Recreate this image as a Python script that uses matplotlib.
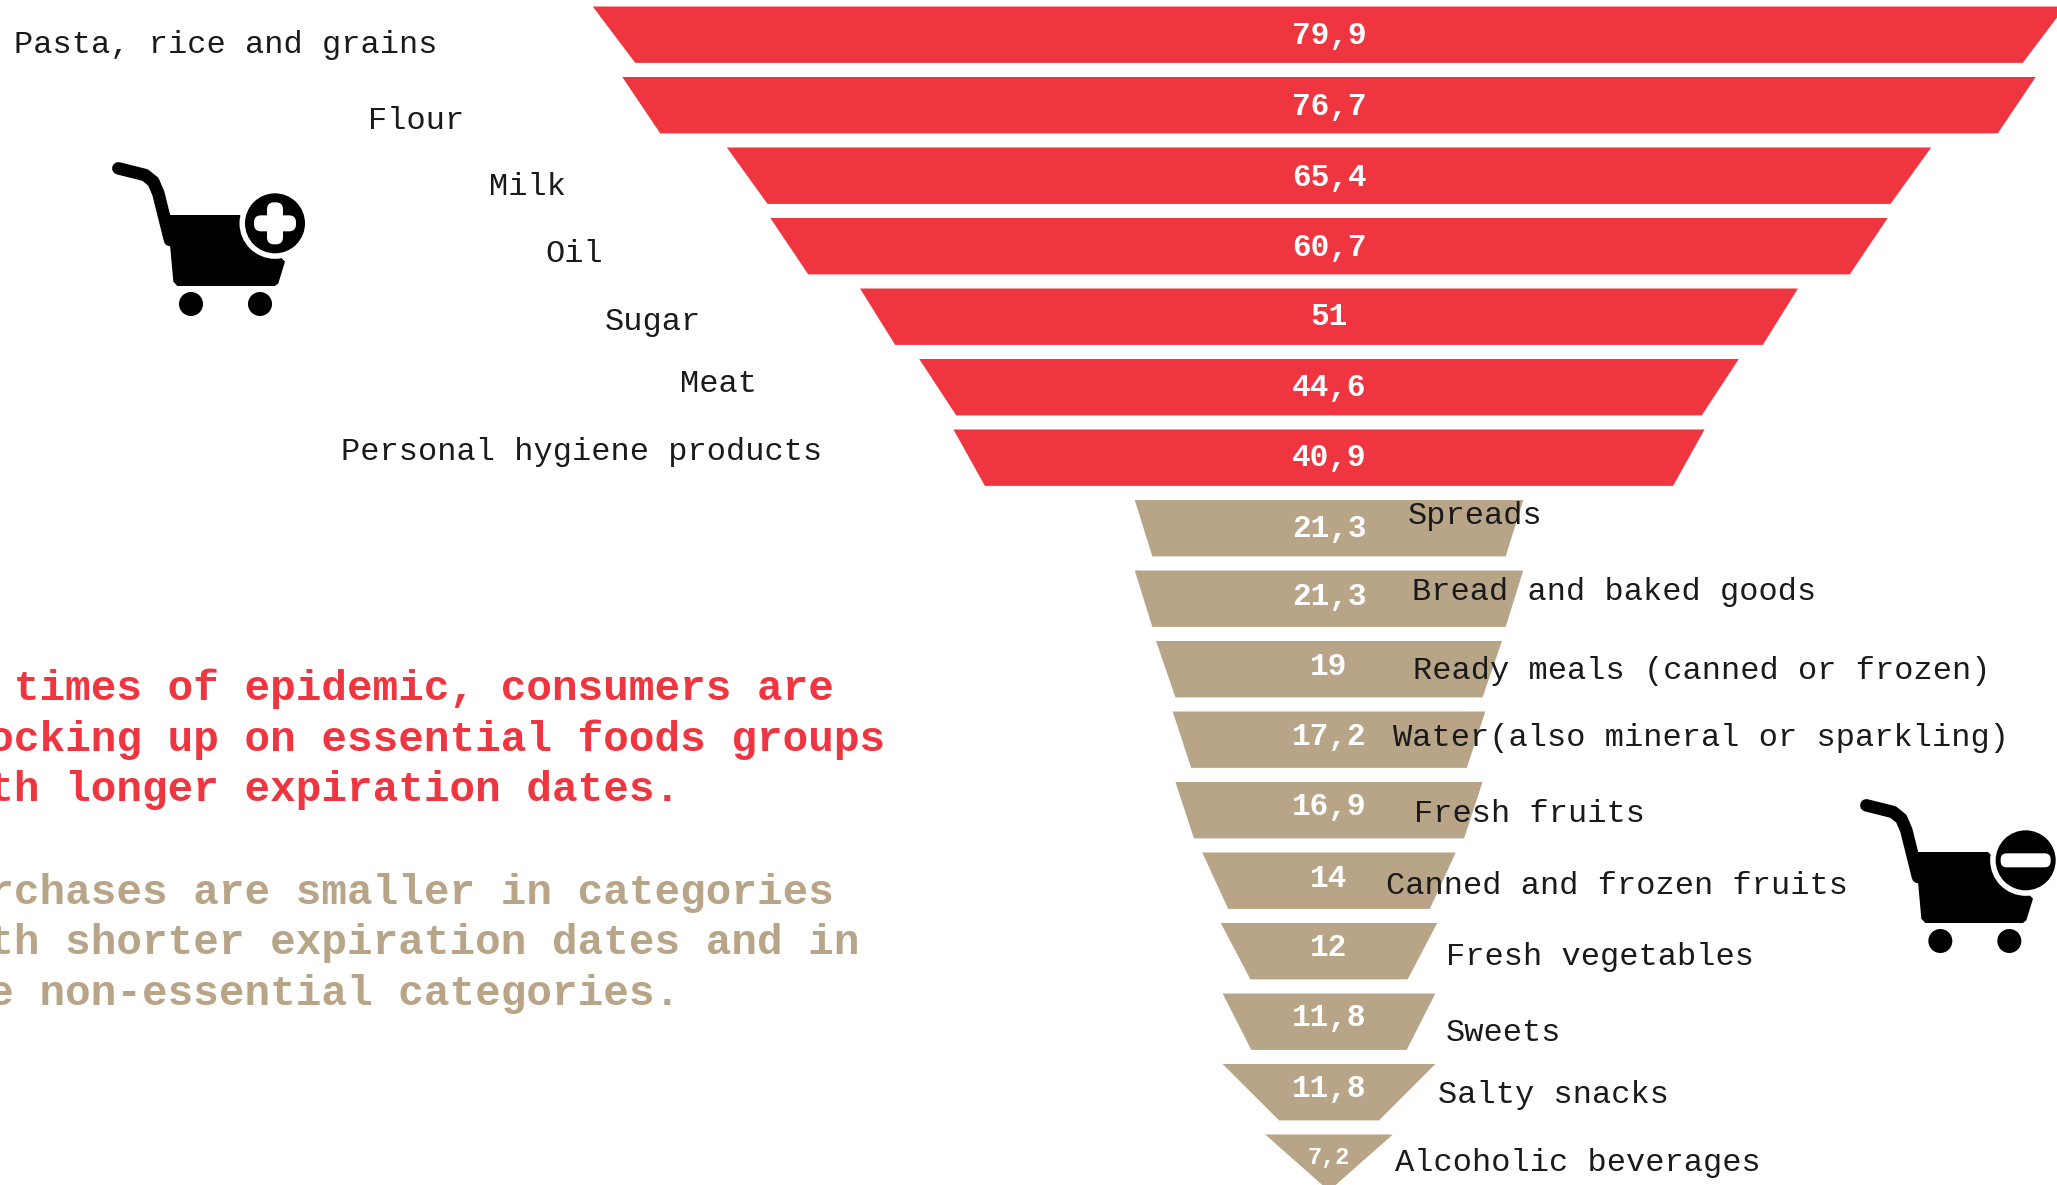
#coding: utf-8
import matplotlib.pyplot as plt
from matplotlib.patches import Circle, FancyBboxPatch, Polygon

categories = ["Pasta, rice and grains", "Flour", "Milk", "Oil", "Sugar", "Meat",
              "Personal hygiene products", "Spreads", "Bread and baked goods",
              "Ready meals (canned or frozen)", "Water(also mineral or sparkling)",
              "Fresh fruits", "Canned and frozen fruits", "Fresh vegetables",
              "Sweets", "Salty snacks", "Alcoholic beverages"]
values = [79.9, 76.7, 65.4, 60.7, 51, 44.6, 40.9, 21.3, 21.3, 19, 17.2, 16.9, 14, 12, 11.8, 11.8, 7.2]
# value at the lower edge of each funnel segment
lower_values = [75.3, 72.6, 61.0, 56.6, 47.2, 40.6, 37.5, 19.4, 19.4, 16.9, 15.2, 14.9, 11.2, 8.8, 8.7, 5.7, 0.3]

RED = "#EF3640"
TAN = "#B8A588"
W, H = 2057, 1185
CENTER = 1329       # funnel axis, px
PX_PER_UNIT = 9.25
BASELINE = 0.3      # value at which the funnel width reaches zero
TOP = 6.5
PITCH = 70.5
SEG = 0.8

# label anchors in px: left edge and vertical centre
label_x = [14, 368, 489, 545, 605, 680, 341, 1408, 1412, 1413, 1393, 1414, 1386, 1446, 1446, 1438, 1395]
label_y = [45, 121, 187, 254, 322, 384, 452, 516, 592, 671, 738, 814, 886, 957, 1033, 1095, 1163]
value_y = [36, 107, 178, 248, 317, 388, 458, 529, 597, 667, 737, 807, 879, 948, 1018, 1089, 1158]

red_lines = ["In times of epidemic, consumers are",
             "stocking up on essential foods groups",
             "with longer expiration dates."]
tan_lines = ["Purchases are smaller in categories",
             "with shorter expiration dates and in",
             "the non-essential categories."]
red_y = [689, 740, 790]
tan_y = [893, 943, 994]


def draw_cart(ax, ox, oy, badge, bx=0):
    # icon outline is in thirds of a px, relative to (ox, oy)
    def p(x, y):
        return (ox + x / 3.0, oy + y / 3.0)
    hx = [85, 165, 190, 205, 240]
    hy = [85, 105, 125, 160, 300]
    ax.plot([ox + x / 3.0 for x in hx], [oy + y / 3.0 for y in hy], color="black", lw=9,
            solid_capstyle="round", solid_joinstyle="round")
    basket = [p(232, 225), p(450, 225), p(585, 365), p(565, 430), p(555, 438), p(262, 438), p(250, 425)]
    ax.add_patch(Polygon(basket, closed=True, color="black", lw=0))
    for wx in [303 + bx / 2, 510 + bx / 2]:
        ax.add_patch(Circle(p(wx, 492), 12, color="black", lw=0))
    c = p(555 + bx, 250)
    ax.add_patch(Circle(c, 35.5, color="white", lw=0))
    ax.add_patch(Circle(c, 30, color="black", lw=0))
    if badge == "+":
        ax.add_patch(FancyBboxPatch((c[0] - 21, c[1] - 8), 42, 16,
                                    boxstyle="round,pad=0,rounding_size=7", color="white", lw=0))
        ax.add_patch(FancyBboxPatch((c[0] - 8, c[1] - 21), 16, 42,
                                    boxstyle="round,pad=0,rounding_size=7", color="white", lw=0))
    else:
        ax.add_patch(FancyBboxPatch((c[0] - 25, c[1] - 7), 50, 14,
                                    boxstyle="round,pad=0,rounding_size=6", color="white", lw=0))


if __name__ == "__main__":
    plt.rcParams["font.family"] = ["Liberation Mono", "DejaVu Sans Mono"]
    fig = plt.figure(figsize=(W / 100.0, H / 100.0), dpi=100)

    # funnel: x in value units around the axis, y in rows
    ax = fig.add_axes([0, 0, 1, 1])
    ax.set_xlim(-CENTER / PX_PER_UNIT, (W - CENTER) / PX_PER_UNIT)
    ax.set_ylim((H - TOP) / PITCH, -TOP / PITCH)
    ax.axis("off")
    for i, (v, low) in enumerate(zip(values, lower_values)):
        up = v - BASELINE
        dn = low - BASELINE
        color = RED if i < 7 else TAN
        ax.fill([-up, up, dn, -dn], [i, i, i + SEG, i + SEG], color=color, lw=0)

    # overlay in px for icons and text
    over = fig.add_axes([0, 0, 1, 1])
    over.set_xlim(0, W)
    over.set_ylim(H, 0)
    over.axis("off")
    over.patch.set_alpha(0)

    draw_cart(over, 90, 140, "+")
    draw_cart(over, 1838, 777, "-", bx=8)

    for name, x, y in zip(categories, label_x, label_y):
        over.text(x, y, name, fontsize=23, color="#1a1a1a", va="center", ha="left")
    for i, (v, y) in enumerate(zip(values, value_y)):
        text = ("%g" % v).replace(".", ",")
        over.text(CENTER, y, text, fontsize=22.4 if v > 8 else 17, color="white",
                  fontweight="bold", va="center", ha="center")

    for line, y in zip(red_lines, red_y):
        over.text(-63, y, line, fontsize=30.7, color=RED, fontweight="bold", va="center", ha="left")
    for line, y in zip(tan_lines, tan_y):
        over.text(-63, y, line, fontsize=30.7, color=TAN, fontweight="bold", va="center", ha="left")

    fig.savefig("out.png", dpi=100)
